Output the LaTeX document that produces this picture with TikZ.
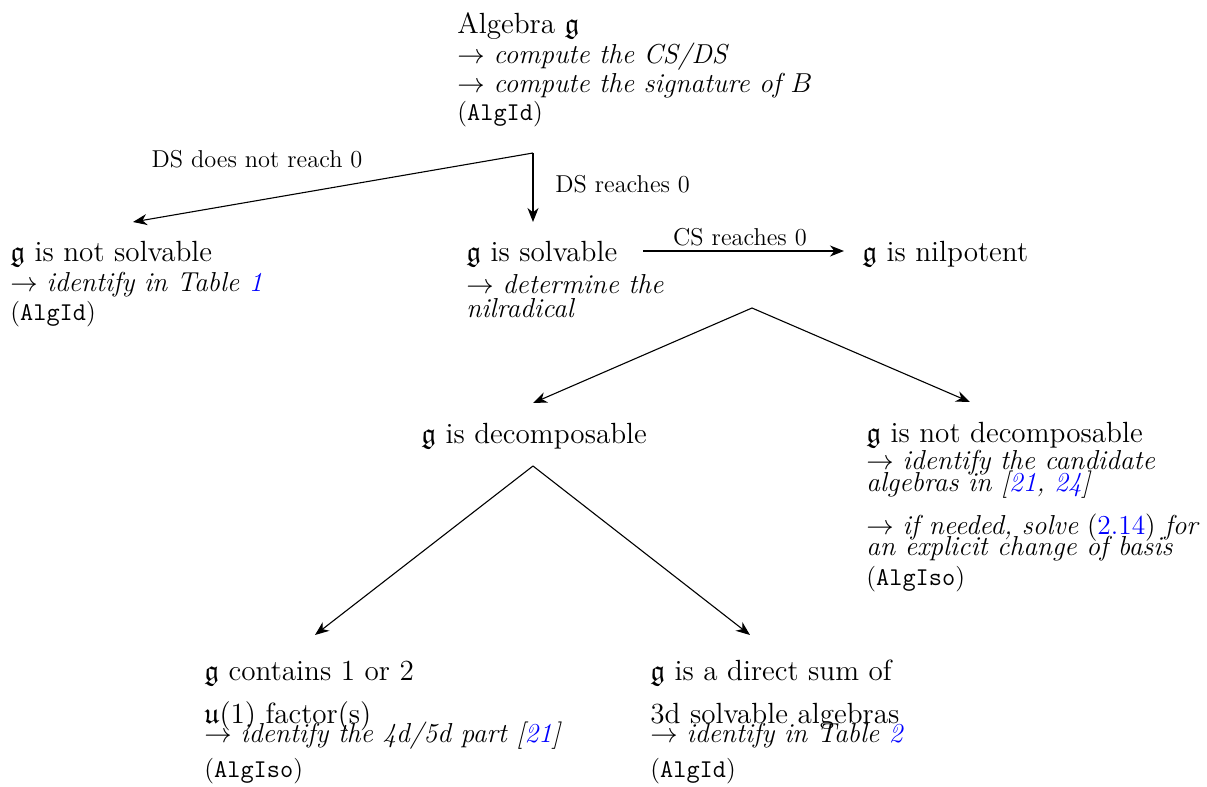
\documentclass[tikz,border=0pt]{standalone}
\usepackage{fix-cm}
\usepackage{amssymb}
\usetikzlibrary{arrows.meta}
\definecolor{reflink}{rgb}{0,0,1}
\newcommand{\hd}{\fontsize{14.6}{11}\selectfont}
\newcommand{\ittx}{\fontsize{13.7}{11}\selectfont\itshape}
\newcommand{\algo}[1]{{\fontsize{12.8}{11}\selectfont(\texttt{#1})}}
\newcommand{\rf}[1]{\textcolor{reflink}{#1}}
\tikzset{
  blk/.style={anchor=base west, inner sep=0pt, align=left,
    font={\fontsize{13.7}{11}\selectfont\lineskiplimit=-30pt}},
  lbl/.style={anchor=base, inner sep=0pt, font=\fontsize{12.2}{11}\selectfont},
  edge/.style={line width=0.55pt, -{Stealth[length=7pt,width=5.5pt,inset=2.2pt]}}
}

\begin{document}
\begin{tikzpicture}[x=0.5pt,y=-0.5pt]
	\useasboundingbox (0,0) rectangle (1207,787);
	%%%%% last baselines %%%%%
	\def\ytop{120}
	\def\yone{261}
	\def\ytwo{443}
	\def\ythree{777}
	
	\node[blk] (alg) at (457,\ytop) {{\hd Algebra $\mathfrak{g}$}\\[4pt]
		$\to$ {\ittx compute the CS/DS}\\[3.5pt]
		$\to$ {\ittx compute the signature of $B$}\\[3pt]
		\algo{AlgId}};
	
	\node[blk] (nsolv) at (10,\yone+59) {{\hd $\mathfrak{g}$ is not solvable}\\[4pt]
		$\to$ {\ittx identify in Table \rf{1}}\\[3.5pt]
		\algo{AlgId}};
	\node[blk] (solv) at (466,\yone+56) {{\hd $\mathfrak{g}$ is solvable}\\[5pt]
		$\to$ {\ittx determine the}\\[1pt]
		{\ittx nilradical}};
	\node[blk] (nilp) at (862,\yone) {{\hd $\mathfrak{g}$ is nilpotent}};
	
	\node[blk] (dec) at (421,\ytwo) {{\hd $\mathfrak{g}$ is decomposable}};
	\node[blk] (ndec) at (866,\ytwo+142) {{\hd $\mathfrak{g}$ is not decomposable}\\[2.5pt]
		$\to$ {\ittx identify the candidate}\\
		{\ittx algebras in [\rf{21}, \rf{24}]}\\[10.5pt]
		$\to$ {\ittx if needed, solve} (\rf{2.14}) {\ittx for}\\[-0.5pt]
		{\ittx an explicit change of basis}\\[4pt]
		\algo{AlgIso}};
	
	\node[blk] (cont) at (204,\ythree) {{\hd $\mathfrak{g}$ contains 1 or 2}\\[10.5pt]
		{\hd $\mathfrak{u}(1)$ factor(s)}\\[-1.5pt]
		$\to$ {\ittx identify the 4d/5d part [\rf{21}]}\\[6.5pt]
		\algo{AlgIso}};
	\node[blk] (dsum) at (650,\ythree) {{\hd $\mathfrak{g}$ is a direct sum of}\\[10.5pt]
		{\hd 3d solvable algebras}\\[-1.5pt]
		$\to$ {\ittx identify in Table \rf{2}}\\[6.5pt]
		\algo{AlgId}};
	
	%split points and arrow ends
	\coordinate (alg-split) at (533,153);
	\coordinate (nsolv-in) at (133,222);
	\coordinate (solv-in) at (533,222);
	\coordinate (solv-out) at (643,251);
	\coordinate (nilp-in) at (844,251);
	\coordinate (nilp-split) at (752,308);
	\coordinate (dec-in) at (533,403);
	\coordinate (ndec-in) at (970,402);
	\coordinate (dec-split) at (533,466);
	\coordinate (cont-in) at (315,635);
	\coordinate (dsum-in) at (750,635);
	
	\draw[edge] (alg-split) -- (nsolv-in);
	\draw[edge] (alg-split) -- (solv-in);
	\draw[edge] (solv-out) -- (nilp-in);
	\draw[edge] (nilp-split) -- (dec-in);
	\draw[edge] (nilp-split) -- (ndec-in);
	\draw[edge] (dec-split) -- (cont-in);
	\draw[edge] (dec-split) -- (dsum-in);
	
	\node[lbl] (ds-no) at (257,167) {DS does not reach 0};
	\node[lbl, anchor=base west] (ds-yes) at (555,192) {DS reaches 0};
	\node[lbl] (cs-yes) at (740,245) {CS reaches 0};
\end{tikzpicture}
\end{document}
